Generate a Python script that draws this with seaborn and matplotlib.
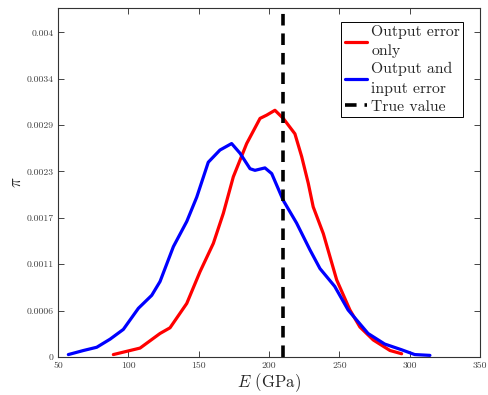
import matplotlib
matplotlib.use("Agg")
import matplotlib.pyplot as plt
import seaborn as sns
import numpy as np
import pandas as pd

# Data
red_E = [89.3, 108.3, 122.5, 129.6, 141.5, 150.9, 160.4, 167.5, 174.6, 184.1, 193.6, 198.3,
         204.2, 210.1, 218.4, 223.2, 227.9, 231.4, 238.6, 248.1, 257.5, 264.6, 274.1, 286.0, 294.3]
red_pi = [0.00003, 0.00011, 0.00029, 0.00036, 0.00066, 0.00105, 0.00140, 0.00177, 0.00222,
          0.00263, 0.00294, 0.00298, 0.00304, 0.00294, 0.00275, 0.00247, 0.00214, 0.00185,
          0.00152, 0.00095, 0.00058, 0.00037, 0.00021, 0.00008, 0.00004]
blue_E = [57.3, 68.0, 77.5, 87.0, 96.4, 107.1, 116.6, 122.5, 132.0, 141.5, 148.6, 156.8, 165.1,
          173.4, 179.4, 186.5, 190.0, 197.1, 201.9, 210.1, 219.6, 229.1, 236.2, 246.7, 256.2,
          270.4, 282.2, 294.1, 303.6, 314.4]
blue_pi = [0.00003, 0.00008, 0.00012, 0.00022, 0.00034, 0.00060, 0.00076, 0.00093, 0.00136,
           0.00167, 0.00197, 0.00240, 0.00255, 0.00263, 0.00251, 0.00232, 0.00230, 0.00233,
           0.00226, 0.00193, 0.00165, 0.00132, 0.00109, 0.00087, 0.00058, 0.00029, 0.00016,
           0.00009, 0.00003, 0.00002]
true_value = 210
xticks = [50, 100, 150, 200, 250, 300, 350]
ytick_labels = ["0", "0.0006", "0.0011", "0.0017", "0.0023", "0.0029", "0.0034", "0.004"]

sns.set_theme(style="ticks")
plt.rcParams["font.family"] = ["cmr10", "DejaVu Serif"]
plt.rcParams["mathtext.fontset"] = "cm"
plt.rcParams["axes.unicode_minus"] = False

fig = plt.figure(figsize=(4.88, 3.95), dpi=100)
ax = fig.add_axes([0.119, 0.0962, 0.8646, 0.8835])

df_r = pd.DataFrame({"E": red_E, "pi": red_pi})
df_b = pd.DataFrame({"E": blue_E, "pi": blue_pi})
sns.lineplot(data=df_r, x="E", y="pi", color="#ff0000", lw=2.3, ax=ax,
             label="Output error\nonly", sort=False, solid_joinstyle="round")
sns.lineplot(data=df_b, x="E", y="pi", color="#0000ff", lw=2.3, ax=ax,
             label="Output and\ninput error", sort=False, solid_joinstyle="round")
ax.axvline(true_value, color="black", lw=2.6, ls=(0, (3.2, 2.2)), label="True value")

ax.set_xlim(50, 350)
ax.set_ylim(0, 0.0043)
ax.set_xticks(xticks)
ax.set_xticklabels([str(v) for v in xticks])
ax.set_yticks(np.linspace(0, 0.004, len(ytick_labels)))
ax.set_yticklabels(ytick_labels)
ax.tick_params(direction="in", top=True, right=True, labelsize=7, colors="#262626",
               length=4, width=0.6, labelcolor="#404040", pad=3)
for s in ax.spines.values():
    s.set_linewidth(0.8)
    s.set_color("#333333")

ax.set_xlabel(r"$E$ (GPa)", fontsize=12, labelpad=1)
ax.set_ylabel(r"$\pi$", fontsize=12, labelpad=2)

leg = ax.legend(loc="upper right", bbox_to_anchor=(0.96, 0.96), fontsize=11.3,
                frameon=True, fancybox=False, edgecolor="black", framealpha=1,
                handlelength=1.4, handletextpad=0.3, borderpad=0.2, labelspacing=0.25,
                borderaxespad=0)
for t in leg.get_texts():
    t.set_linespacing(1.5)
leg.get_frame().set_linewidth(0.7)

fig.savefig("out.png", dpi=100)
